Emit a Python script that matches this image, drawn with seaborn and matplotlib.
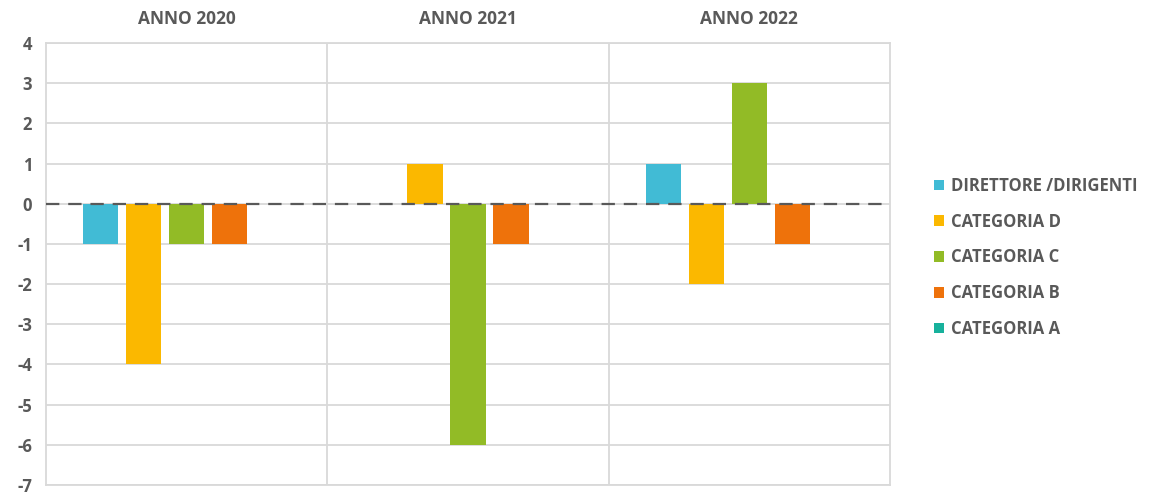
import matplotlib
matplotlib.use("Agg")
import matplotlib.pyplot as plt
import seaborn as sns
import pandas as pd

# dati
anni = ["ANNO 2020", "ANNO 2021", "ANNO 2022"]
categorie = ["DIRETTORE /DIRIGENTI", "CATEGORIA D", "CATEGORIA C", "CATEGORIA B", "CATEGORIA A"]
dirigenti = [-1, 0, 1]
cat_d = [-4, 1, -2]
cat_c = [-1, -6, 3]
cat_b = [-1, -1, -1]
cat_a = [0, 0, 0]
colori = ["#41BBD5", "#FBB800", "#92BB26", "#EE720B", "#17B19C"]

serie = [dirigenti, cat_d, cat_c, cat_b, cat_a]
righe = []
for cat, vals in zip(categorie, serie):
    for anno, v in zip(anni, vals):
        righe.append({"anno": anno, "categoria": cat, "valore": v})
df = pd.DataFrame(righe)

sns.set_style("white")
plt.rcParams["font.family"] = ["Open Sans", "DejaVu Sans"]
plt.rcParams["axes.unicode_minus"] = False
grigio = "#595959"

fig = plt.figure(figsize=(11.56, 4.92), dpi=100)
ax = fig.add_axes([0.0398, 0.0142, 0.730, 0.8984])

sns.barplot(data=df, x="anno", y="valore", hue="categoria", hue_order=categorie,
            palette=colori, width=0.765, gap=0.18, saturation=1, ax=ax, legend=True,
            errorbar=None, linewidth=0, edgecolor="none")

ax.set_ylim(-7, 4)
ax.set_xlim(-0.5, 2.5)
ax.set_yticks(range(-7, 5))
ax.yaxis.grid(True, color="#D9D9D9", linewidth=1.3)
ax.set_axisbelow(True)
for xs in [0.5, 1.5]:
    ax.axvline(xs, color="#D9D9D9", linewidth=1.3, zorder=0)
ax.axhline(0, color="#595959", linestyle=(0, (6, 4)), linewidth=1.6, zorder=5)
for s in ax.spines.values():
    s.set_color("#D9D9D9")
    s.set_linewidth(1.3)

ax.xaxis.tick_top()
ax.tick_params(axis="both", length=0, colors=grigio)
ax.tick_params(axis="x", pad=11)
ax.tick_params(axis="y", pad=10)
for t in ax.get_xticklabels():
    t.set_fontweight("bold")
    t.set_fontsize(12.5)
for t in ax.get_yticklabels():
    t.set_fontweight("bold")
    t.set_fontsize(12)
ax.set_xlabel("")
ax.set_ylabel("")

handles, labels = ax.get_legend_handles_labels()
leg = ax.legend(handles, labels, loc="center left", bbox_to_anchor=(1.035, 0.515),
                frameon=False, handlelength=0.6, handleheight=0.6, handletextpad=0.4,
                labelspacing=1.07, prop={"weight": "bold", "size": 12})
for t in leg.get_texts():
    t.set_color(grigio)

fig.savefig("out.png", dpi=100, facecolor="white")
